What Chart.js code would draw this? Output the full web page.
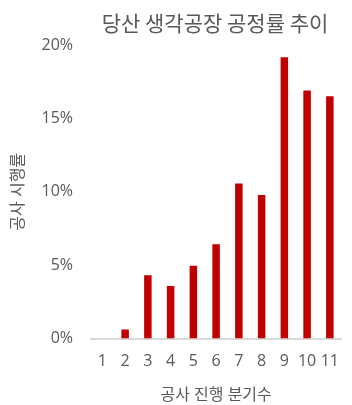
<!DOCTYPE html>
<html lang="ko">
<head>
<meta charset="utf-8">
<script src="https://cdn.jsdelivr.net/npm/chart.js@4/dist/chart.umd.min.js"></script>
<style>
  html, body { margin: 0; padding: 0; background: #ffffff; }
  #wrap { width: 352px; height: 405px; position: relative; }
</style>
</head>
<body>
<div id="wrap"><canvas id="chart" width="352" height="405"></canvas></div>
<script>
// 분기별 공정률 (%)
const quarters = ['1', '2', '3', '4', '5', '6', '7', '8', '9', '10', '11'];
const progressRate = [0, 0.62, 4.31, 3.59, 4.97, 6.42, 10.56, 9.79, 19.16, 16.9, 16.51];
const yTicks = [0, 5, 10, 15, 20];

const chartTitle = '당산 생각공장 공정률 추이';
const xTitle = '공사 진행 분기수';
const yTitle = '공사 시행률';

const textColor = '#595959';
const barColor = '#C00000';
const fontFamily = "'Open Sans', 'Noto Sans CJK KR', sans-serif";

// 제목을 플롯 영역 위쪽에 직접 그리는 플러그인
const titlePlugin = {
  id: 'topTitle',
  afterDraw(chart) {
    const ctx = chart.ctx;
    ctx.save();
    ctx.font = "21px 'Noto Sans CJK KR', sans-serif";
    ctx.fillStyle = textColor;
    ctx.textAlign = 'center';
    ctx.textBaseline = 'middle';
    ctx.fillText(chartTitle, 215, 23);
    ctx.restore();
  }
};

new Chart(document.getElementById('chart'), {
  type: 'bar',
  data: {
    labels: quarters,
    datasets: [{
      data: progressRate,
      backgroundColor: barColor,
      borderWidth: 0,
      barPercentage: 0.33,
      categoryPercentage: 1.0
    }]
  },
  options: {
    responsive: false,
    animation: false,
    devicePixelRatio: 1,
    layout: { padding: { top: 45, right: 0, bottom: 0, left: 0 } },
    plugins: {
      legend: { display: false },
      tooltip: { enabled: false },
      title: { display: false }
    },
    scales: {
      x: {
        grid: { display: false, drawTicks: false },
        border: { display: true, color: '#D9D9D9', width: 2 },
        ticks: {
          color: textColor,
          font: { family: fontFamily, size: 16 },
          padding: 13,
          maxRotation: 0,
          autoSkip: false
        },
        title: {
          display: true,
          text: xTitle,
          color: textColor,
          font: { family: fontFamily, size: 16 },
          padding: { top: 2, bottom: 0 }
        }
      },
      y: {
        min: 0,
        max: 20,
        afterBuildTicks(axis) {
          axis.ticks = yTicks.map(v => ({ value: v }));
        },
        afterFit(axis) { axis.width = 91; },
        grid: { display: false, drawTicks: false },
        border: { display: false },
        ticks: {
          color: textColor,
          font: { family: fontFamily, size: 16 },
          padding: 18,
          callback: v => v + '%'
        },
        title: {
          display: true,
          text: yTitle,
          color: textColor,
          font: { family: fontFamily, size: 16 },
          padding: { top: 9, bottom: 0 }
        }
      }
    }
  },
  plugins: [titlePlugin]
});
</script>
</body>
</html>
